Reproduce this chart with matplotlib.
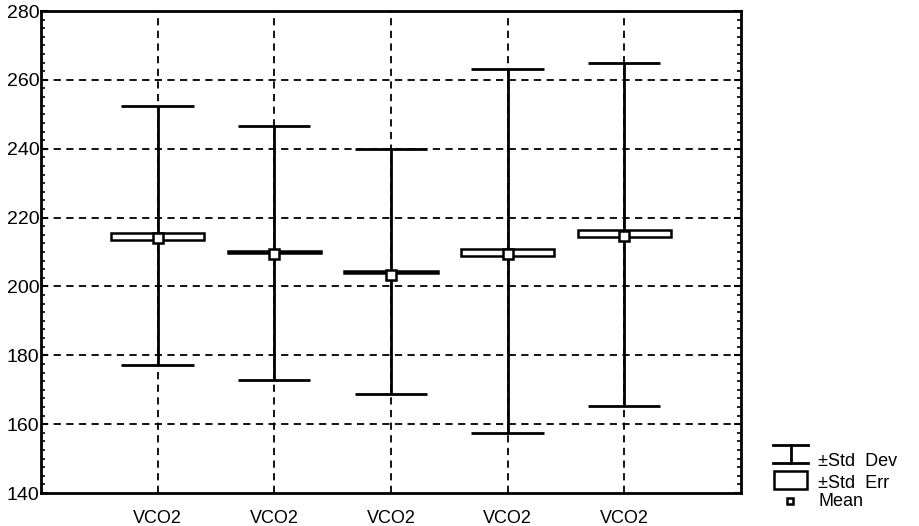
import matplotlib
matplotlib.use("Agg")
import matplotlib.pyplot as plt
from matplotlib.lines import Line2D
from matplotlib.patches import Rectangle
from matplotlib.ticker import MultipleLocator

plt.rcParams["font.family"] = ["Liberation Sans", "DejaVu Sans"]

# values
labels = ["VCO2", "VCO2", "VCO2", "VCO2", "VCO2"]
means = [214.0, 209.3, 203.2, 209.4, 214.7]
se_low = [213.5, 209.6, 204.0, 208.8, 214.3]
se_high = [215.6, 210.2, 204.6, 211.0, 216.4]
sd_low = [177.2, 172.8, 168.7, 157.3, 165.4]
sd_high = [252.4, 246.6, 239.8, 263.2, 265.0]

W, H = 919, 526
fig = plt.figure(figsize=(W / 100, H / 100), dpi=100)
ax = fig.add_axes([41 / W, 1 - 493 / H, 700 / W, 482 / H])

x = list(range(1, len(labels) + 1))
cap_half = 0.31
box_half = 0.40

# grid
for xi in x:
    ax.axvline(xi, color="black", lw=1.3, ls=(0, (4, 3)), zorder=1)
for yv in range(160, 280, 20):
    ax.axhline(yv, color="black", lw=1.3, ls=(0, (4, 3)), zorder=1)

for xi, m, sl, sh, dl, dh in zip(x, means, se_low, se_high, sd_low, sd_high):
    ax.vlines(xi, dl, dh, color="black", lw=2, zorder=2)
    ax.hlines([dl, dh], xi - cap_half, xi + cap_half, color="black", lw=2, zorder=2)
    ax.add_patch(Rectangle((xi - box_half, sl), 2 * box_half, sh - sl,
                           facecolor="white", edgecolor="black", lw=1.8, zorder=3))
    ax.plot(xi, m, marker="s", ms=7, mfc="white", mec="black", mew=1.8, zorder=4)

ax.set_xlim(0, 6)
ax.set_ylim(140, 280)
ax.set_xticks(x)
ax.set_xticklabels(labels, fontsize=13)
ax.set_yticks(range(140, 281, 20))
ax.yaxis.set_minor_locator(MultipleLocator(2.5))
ax.tick_params(axis="y", which="both", direction="in", left=True, right=True,
               labelsize=14, pad=1)
ax.tick_params(axis="y", which="major", length=5, width=1.5)
ax.tick_params(axis="y", which="minor", length=3, width=1.2)
ax.tick_params(axis="x", length=0, pad=12)
for s in ax.spines.values():
    s.set_linewidth(2)

# legend drawn beside the plot
def fx(px):
    return px / W

def fy(py):
    return 1 - py / H

lk = dict(color="black", lw=2, transform=fig.transFigure)
fig.add_artist(Line2D([fx(773), fx(808)], [fy(445), fy(445)], **lk))
fig.add_artist(Line2D([fx(791), fx(791)], [fy(445), fy(463)], **lk))
fig.add_artist(Line2D([fx(773), fx(808)], [fy(463), fy(463)], **lk))
fig.add_artist(Rectangle((fx(774), fy(489)), fx(807) - fx(774), fy(471) - fy(489),
                         facecolor="white", edgecolor="black", lw=1.8,
                         transform=fig.transFigure))
fig.add_artist(Line2D([fx(790)], [fy(501)], marker="s", ms=5, mfc="white",
                      mec="black", mew=1.8, transform=fig.transFigure))
for ty, txt in [(462, "±Std  Dev"), (483, "±Std  Err"), (502, "Mean")]:
    fig.text(fx(818), fy(ty), txt, fontsize=13, va="center", ha="left")

fig.savefig("out.png", dpi=100)
